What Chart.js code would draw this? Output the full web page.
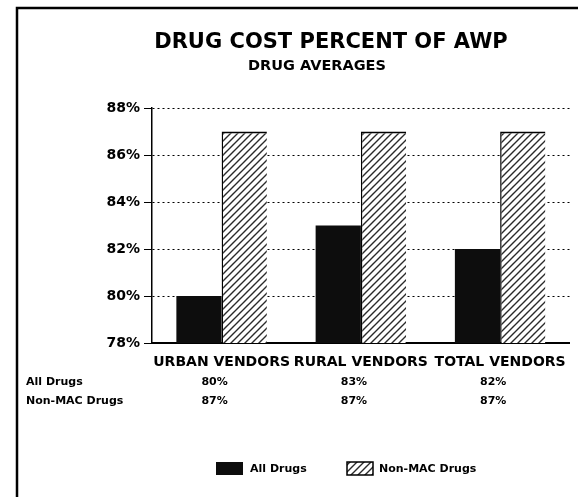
<!DOCTYPE html>
<html>
<head>
<meta charset="utf-8">
<script src="https://cdn.jsdelivr.net/npm/chart.js@4.4.0/dist/chart.umd.min.js"></script>
<style>
  body { margin: 0; background: #fff; }
  canvas { display: block; }
</style>
</head>
<body>
<canvas id="drugChart" width="578" height="497"></canvas>
<script>
// data
const categories = ['URBAN VENDORS', 'RURAL VENDORS', 'TOTAL VENDORS'];
const allDrugs = [80, 83, 82];
const nonMacDrugs = [87, 87, 87];
const yTicks = [78, 80, 82, 84, 86, 88];
const seriesNames = ['All Drugs', 'Non-MAC Drugs'];

const FONT = '"DejaVu Sans", "Liberation Sans", sans-serif';

// diagonal hatch fill for the Non-MAC bars
function makeHatch() {
  const n = 7;
  const c = document.createElement('canvas');
  c.width = n;
  c.height = n;
  const g = c.getContext('2d');
  g.fillStyle = '#fff';
  g.fillRect(0, 0, n, n);
  g.strokeStyle = '#2a2a2a';
  g.lineWidth = 1.4;
  g.beginPath();
  g.moveTo(0, n); g.lineTo(n, 0);
  g.moveTo(-1, 1); g.lineTo(1, -1);
  g.moveTo(n - 1, n + 1); g.lineTo(n + 1, n - 1);
  g.stroke();
  return g.createPattern(c, 'repeat');
}
const hatch = makeHatch();

// frame, titles, value table and legend
const decor = {
  id: 'decor',
  afterDraw(chart) {
    const ctx = chart.ctx;
    const x = chart.scales.x;
    ctx.save();

    ctx.strokeStyle = '#000';
    ctx.lineWidth = 2.5;
    ctx.beginPath();
    ctx.moveTo(17, 497);
    ctx.lineTo(17, 8);
    ctx.lineTo(578, 8);
    ctx.stroke();

    ctx.fillStyle = '#000';
    ctx.textAlign = 'center';
    ctx.textBaseline = 'middle';
    ctx.font = 'bold 21px ' + FONT;
    ctx.fillText('DRUG COST PERCENT OF AWP', 331, 43);
    ctx.font = 'bold 14.5px ' + FONT;
    ctx.fillText('DRUG AVERAGES', 317, 66);

    // table under the axis
    ctx.font = 'bold 11px ' + FONT;
    ctx.textAlign = 'left';
    ctx.fillText(seriesNames[0], 26, 382);
    ctx.fillText(seriesNames[1], 26, 401);
    ctx.textAlign = 'center';
    categories.forEach((c, i) => {
      const cx = x.getPixelForValue(i) - 7;
      ctx.fillText(allDrugs[i] + '%', cx, 382);
      ctx.fillText(nonMacDrugs[i] + '%', cx, 401);
    });

    // legend
    const ds = chart.data.datasets;
    ctx.textAlign = 'left';
    ctx.fillStyle = ds[0].backgroundColor;
    ctx.fillRect(216, 462, 27, 13);
    ctx.fillStyle = '#000';
    ctx.fillText(ds[0].label, 250, 469);
    ctx.fillStyle = ds[1].backgroundColor;
    ctx.fillRect(347, 462, 26, 13);
    ctx.strokeStyle = '#000';
    ctx.lineWidth = 1.5;
    ctx.strokeRect(347, 462, 26, 13);
    ctx.fillStyle = '#000';
    ctx.fillText(ds[1].label, 379, 469);

    ctx.restore();
  }
};

new Chart(document.getElementById('drugChart'), {
  type: 'bar',
  data: {
    labels: categories,
    datasets: [{
      label: seriesNames[0],
      data: allDrugs,
      backgroundColor: '#0d0d0d',
      borderWidth: 0
    }, {
      label: seriesNames[1],
      data: nonMacDrugs,
      backgroundColor: hatch,
      borderColor: '#000',
      borderWidth: { top: 2, left: 1.5, right: 0, bottom: 0 }
    }]
  },
  options: {
    responsive: false,
    animation: false,
    categoryPercentage: 0.65,
    barPercentage: 1,
    layout: { padding: { left: 0, top: 108, right: 8, bottom: 0 } },
    scales: {
      x: {
        grid: { display: false, drawTicks: false },
        border: { display: true, color: '#000', width: 2 },
        ticks: {
          color: '#000',
          padding: 11,
          maxRotation: 0,
          autoSkip: false,
          font: { family: FONT, size: 14, weight: 'bold' }
        },
        afterFit(scale) { scale.height = 154; }
      },
      y: {
        min: 78,
        max: 88,
        afterBuildTicks(scale) { scale.ticks = yTicks.map(v => ({ value: v })); },
        grid: { color: '#000', lineWidth: 1, tickLength: 8 },
        border: { display: true, color: '#000', width: 1.5, dash: [2, 3] },
        ticks: {
          color: '#000',
          padding: 4,
          font: { family: FONT, size: 14, weight: 'bold' },
          callback: v => v + '%'
        },
        afterFit(scale) { scale.width = 152; }
      }
    },
    plugins: {
      legend: { display: false },
      tooltip: { enabled: false }
    }
  },
  plugins: [decor]
});
</script>
</body>
</html>
